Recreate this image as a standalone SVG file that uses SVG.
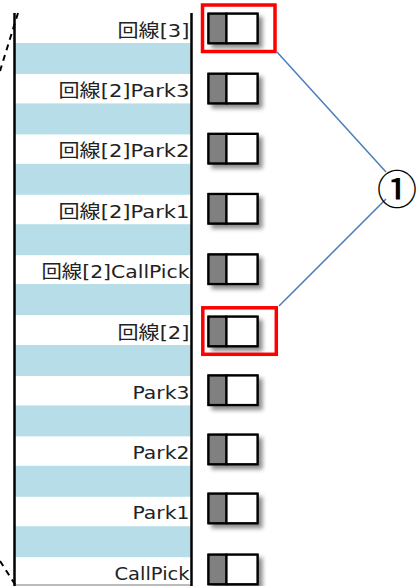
<svg xmlns="http://www.w3.org/2000/svg" width="418" height="586" viewBox="0 0 418 586">
<defs>
<filter id="sh" x="-20%" y="-20%" width="150%" height="160%">
<feDropShadow dx="4" dy="4" stdDeviation="2" flood-color="#000" flood-opacity="0.45"/>
</filter>
<g id="sw">
<rect x="0" y="0" width="49" height="29.5" fill="#fff" stroke="#000" stroke-width="2.2" filter="url(#sh)"/>
<rect x="0" y="0" width="18" height="29.5" fill="#808080" stroke="#000" stroke-width="2.2"/>
<rect x="18" y="0" width="31" height="29.5" fill="#fff" stroke="#000" stroke-width="2.2"/>
</g>
</defs>
<style>
.lbl{font-family:"DejaVu Sans","Noto Sans CJK JP",sans-serif;font-size:18.5px;fill:#222;text-anchor:end}
.band{fill:#b7dee8}
.hl{fill:none;stroke:#ff0000;stroke-width:3.5}
.con{stroke:#4a7ebb;stroke-width:1.5;fill:none}
.dash{stroke:#000;stroke-width:2;stroke-dasharray:6 5;fill:none}
</style>
<rect width="418" height="586" fill="#fff"/>
<g id="bands">
<rect class="band" x="15" y="43" width="176" height="31"/>
<rect class="band" x="15" y="103.4" width="176" height="31"/>
<rect class="band" x="15" y="163.8" width="176" height="31"/>
<rect class="band" x="15" y="224.2" width="176" height="31"/>
<rect class="band" x="15" y="284" width="176" height="31"/>
<rect class="band" x="15" y="345" width="176" height="31"/>
<rect class="band" x="15" y="405.4" width="176" height="31"/>
<rect class="band" x="15" y="465.8" width="176" height="31"/>
<rect class="band" x="15" y="526.2" width="176" height="31"/>
</g>
<g id="frame">
<line x1="15" y1="585" x2="191" y2="585" stroke="#a6a6a6" stroke-width="1.5"/>
<line x1="14.5" y1="13" x2="14.5" y2="586" stroke="#000" stroke-width="2.5"/>
<line x1="191.5" y1="13" x2="191.5" y2="586" stroke="#000" stroke-width="2.5"/>
<line class="dash" x1="18" y1="13" x2="0" y2="71"/>
<line class="dash" x1="0" y1="561" x2="16" y2="586"/>
</g>
<g id="row0"><text class="lbl" x="189.5" y="37" textLength="72" lengthAdjust="spacingAndGlyphs">回線[3]</text><use href="#sw" x="208.5" y="13.7"/></g>
<g id="row1"><text class="lbl" x="189.5" y="97" textLength="131" lengthAdjust="spacingAndGlyphs">回線[2]Park3</text><use href="#sw" x="208.5" y="73.8"/></g>
<g id="row2"><text class="lbl" x="189.5" y="157" textLength="131" lengthAdjust="spacingAndGlyphs">回線[2]Park2</text><use href="#sw" x="208.5" y="133.9"/></g>
<g id="row3"><text class="lbl" x="189.5" y="218" textLength="131" lengthAdjust="spacingAndGlyphs">回線[2]Park1</text><use href="#sw" x="208.5" y="194"/></g>
<g id="row4"><text class="lbl" x="189.5" y="278" textLength="148" lengthAdjust="spacingAndGlyphs">回線[2]CallPick</text><use href="#sw" x="208.5" y="254.5"/></g>
<g id="row5"><text class="lbl" x="189.5" y="339" textLength="72" lengthAdjust="spacingAndGlyphs">回線[2]</text><use href="#sw" x="208.5" y="316.7"/></g>
<g id="row6"><text class="lbl" x="189.5" y="399" textLength="57" lengthAdjust="spacingAndGlyphs">Park3</text><use href="#sw" x="208.5" y="375.5"/></g>
<g id="row7"><text class="lbl" x="189.5" y="459" textLength="57" lengthAdjust="spacingAndGlyphs">Park2</text><use href="#sw" x="208.5" y="434.7"/></g>
<g id="row8"><text class="lbl" x="189.5" y="519" textLength="57" lengthAdjust="spacingAndGlyphs">Park1</text><use href="#sw" x="208.5" y="493.7"/></g>
<g id="row9"><text class="lbl" x="189.5" y="580" textLength="75" lengthAdjust="spacingAndGlyphs">CallPick</text><use href="#sw" x="208.5" y="554.7"/></g>
<g id="highlight1"><rect class="hl" x="202.5" y="5" width="72.5" height="46.5"/></g>
<g id="highlight2"><rect class="hl" x="202.8" y="307.8" width="73.5" height="46.5"/></g>
<g id="connectors">
<line class="con" x1="277" y1="52" x2="386" y2="172"/>
<line class="con" x1="386" y1="199" x2="279" y2="306"/>
</g>
<g id="callout"><text x="397" y="187" font-family="'Noto Sans CJK JP',sans-serif" font-size="40" font-weight="500" text-anchor="middle" dominant-baseline="central" fill="#000">①</text></g>
</svg>
